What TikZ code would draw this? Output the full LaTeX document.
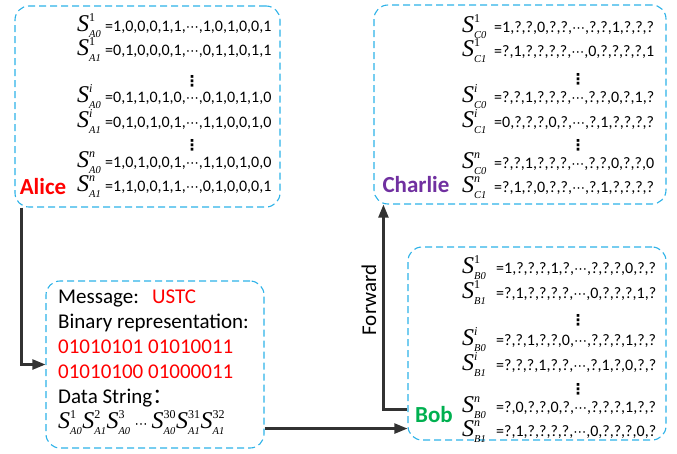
\documentclass[tikz,border=0pt]{standalone}
\usepackage{fontspec}
\setmainfont{Carlito}
\newfontfamily\tms{Liberation Serif}
\newfontfamily\djv{DejaVu Sans}
\newfontfamily\cjk{Noto Sans CJK SC}
\usetikzlibrary{arrows.meta}

\definecolor{boxblue}{RGB}{45,178,232}
\definecolor{conngray}{RGB}{50,50,50}
\definecolor{alicered}{RGB}{255,0,0}
\definecolor{bobgreen}{RGB}{0,176,80}
\definecolor{charliepurple}{RGB}{112,48,160}

% S^{sup}_{sub} in a Times-like italic
\newcommand\Sv[2]{$\mathord{\hbox{\tms\itshape S}}^{\hbox{\tms\fontsize{12}{12}\selectfont #1}}_{\hbox{\tms\itshape\fontsize{10.5}{10.5}\selectfont #2}}$}
% centred ellipsis and vertical ellipsis
\newcommand\cdts{{\djv\fontsize{13}{13}\selectfont ⋯}}
\newcommand\vdts{{\djv\fontsize{15}{15}\selectfont\bfseries ⋮}}

% one line of a bit table: name, x of S, x of '=', baseline y, sup, sub, values
\newcommand\datarow[7]{%
  \node[sym] (#1s) at (#2,#4) {\Sv{#5}{#6}};
  \node[vals] (#1v) at (#3,#4) {=#7};}

\tikzset{
  party/.style={draw=boxblue, line width=1.1pt, dash pattern=on 7pt off 4pt,
    rounded corners=14pt, inner sep=0pt},
  conn/.style={draw=conngray, line width=2.2pt,
    -{Triangle[length=13pt,width=10pt]}},
  sym/.style={anchor=base west, inner sep=0pt, font=\fontsize{24}{24}\selectfont},
  vals/.style={anchor=base west, inner sep=0pt, font=\fontsize{16}{16}\selectfont},
  gap/.style={inner sep=0pt},
  who/.style={inner sep=0pt, font=\fontsize{23}{23}\selectfont\bfseries},
  msgtext/.style={anchor=base west, inner sep=0pt, font=\fontsize{21}{21}\selectfont},
}

\begin{document}
\begin{tikzpicture}[x=1pt,y=-1pt]
\useasboundingbox (0,0) rectangle (677,453);

% the four dashed panels
\node[party, minimum width=265pt, minimum height=201pt] (alice) at (147.5,106.5) {};
\node[party, minimum width=292pt, minimum height=199pt] (charlie) at (520,104.5) {};
\node[party, minimum width=218pt, minimum height=167pt] (msg) at (155,364.5) {};
\node[party, minimum width=258pt, minimum height=193pt] (bob) at (537,343.5) {};

% Alice's strings
\datarow{a1}{77}{105}{31}{1}{A0}{1,0,0,0,1,1,\cdts,1,0,1,0,0,1}
\datarow{a2}{77}{105}{55}{1}{A1}{0,1,0,0,0,1,\cdts,0,1,1,0,1,1}
\datarow{a3}{77}{105}{102}{\itshape i}{A0}{0,1,1,0,1,0,\cdts,0,1,0,1,1,0}
\datarow{a4}{77}{105}{127}{\itshape i}{A1}{0,1,0,1,0,1,\cdts,1,1,0,0,1,0}
\datarow{a5}{77}{105}{167}{\itshape n}{A0}{1,0,1,0,0,1,\cdts,1,1,0,1,0,0}
\datarow{a6}{77}{105}{191}{\itshape n}{A1}{1,1,0,0,1,1,\cdts,0,1,0,0,0,1}
\node[gap] (ag1) at (192,81) {\vdts};
\node[gap] (ag2) at (192,145) {\vdts};
\node[who, text=alicered] (alicename) at (43,187) {Alice};

% Charlie's strings
\datarow{c1}{462}{494}{32}{1}{C0}{1,?,?,0,?,?,\cdts,?,?,1,?,?,?}
\datarow{c2}{462}{494}{56}{1}{C1}{?,1,?,?,?,?,\cdts,0,?,?,?,?,1}
\datarow{c3}{462}{494}{102}{\itshape i}{C0}{?,?,1,?,?,?,\cdts,?,?,0,?,1,?}
\datarow{c4}{462}{494}{127}{\itshape i}{C1}{0,?,?,?,0,?,\cdts,?,1,?,?,?,?}
\datarow{c5}{462}{494}{168}{\itshape n}{C0}{?,?,1,?,?,?,\cdts,?,?,0,?,?,0}
\datarow{c6}{462}{494}{192}{\itshape n}{C1}{?,1,?,0,?,?,\cdts,?,1,?,?,?,?}
\node[gap] (cg1) at (578,79) {\vdts};
\node[gap] (cg2) at (578,145) {\vdts};
\node[who, text=charliepurple] (charliename) at (416,185) {Charlie};

% Bob's strings
\datarow{b1}{462}{496}{273}{1}{B0}{1,?,?,?,1,?,\cdts,?,?,?,0,?,?}
\datarow{b2}{462}{496}{298}{1}{B1}{?,1,?,?,?,?,\cdts,0,?,?,?,1,?}
\datarow{b3}{462}{496}{345}{\itshape i}{B0}{?,?,1,?,?,0,\cdts,?,?,?,1,?,?}
\datarow{b4}{462}{496}{370}{\itshape i}{B1}{?,?,?,1,?,?,\cdts,?,1,?,0,?,?}
\datarow{b5}{462}{496}{412}{\itshape n}{B0}{?,0,?,?,0,?,\cdts,?,?,?,1,?,?}
\datarow{b6}{462}{496}{436}{\itshape n}{B1}{?,1,?,?,?,?,\cdts,0,?,?,?,0,?}
\node[gap] (bg1) at (578,320) {\vdts};
\node[gap] (bg2) at (578,389) {\vdts};
\node[who, text=bobgreen] (bobname) at (434,415) {Bob};

% the message panel
\node[msgtext] (msglabel) at (58,303) {Message:};
\node[msgtext, text=alicered] (ustc) at (152,303) {USTC};
\node[msgtext] (binlabel) at (58,328) {Binary representation:};
\node[msgtext, text=alicered] (bits1) at (58,353) {01010101 01010011};
\node[msgtext, text=alicered] (bits2) at (58,378) {01010100 01000011};
\node[msgtext] (dslabel) at (58,403) {Data String\cjk{：}};
\node[sym] (dstring) at (58,428)
  {\Sv{1}{A0}\Sv{2}{A1}\Sv{3}{A0}\,\cdts\,\Sv{30}{A0}\Sv{31}{A1}\Sv{32}{A1}};

% connectors
\draw[conn] ([xshift=7pt]alice.south west) |- (msg.west);
\draw[conn] ([yshift=20pt]msg.south east) -- ([yshift=20pt]msg.south east -| bob.west);
\draw[conn] ([yshift=31pt]bob.south west) -| ([xshift=10pt]charlie.south west);
\node[rotate=90, inner sep=0pt, font=\fontsize{21}{21}\selectfont] (fwd) at (369,300) {Forward};
\end{tikzpicture}
\end{document}
